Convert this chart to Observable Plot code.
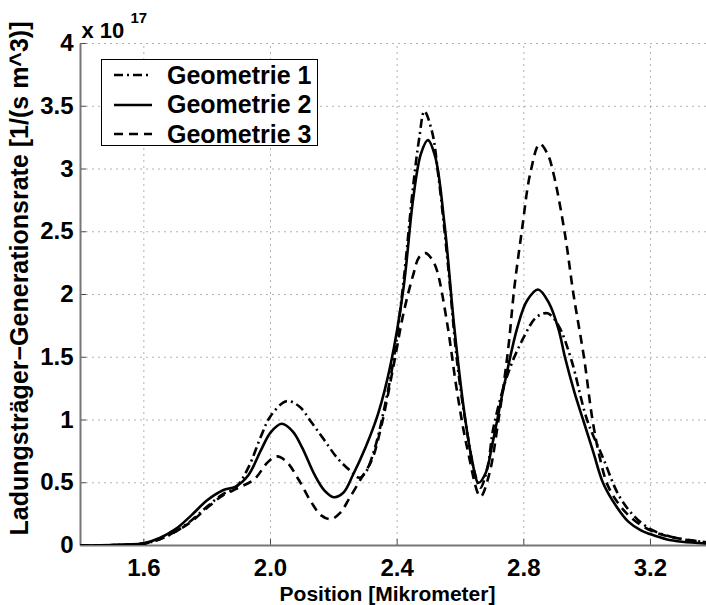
<!DOCTYPE html>
<html>
<head>
<meta charset="utf-8">
<script src="https://cdn.jsdelivr.net/npm/d3@7"></script>
<script src="https://cdn.jsdelivr.net/npm/@observablehq/plot@0.6"></script>
<style>
  html, body { margin: 0; padding: 0; background: #fff; }
  #wrap { position: relative; width: 706px; height: 605px; overflow: hidden; }
  #legend {
    position: absolute; left: 101px; top: 59px; width: 215px; height: 85px;
    border: 1.5px solid #000; background: #fff; box-sizing: content-box;
    font-family: "Liberation Sans", Arial, sans-serif; font-weight: bold; font-size: 25px;
  }
  .row { position: absolute; left: 0; height: 30px; display: flex; align-items: center; }
  .row svg { margin-left: 12px; margin-right: 15px; }
</style>
</head>
<body>
<div id="wrap"><div id="chart"></div><div id="legend"></div></div>
<script>
// ---- data (x in micrometer, y in units of 1e17 1/(s m^3)) ----
const seriesNames = ["Geometrie 1", "Geometrie 2", "Geometrie 3"];

const geom1X = [1.40,1.50,1.55,1.60,1.65,1.70,1.75,1.80,1.85,1.89,1.93,1.97,2.00,2.05,2.09,2.13,2.17,2.21,2.25,2.28,2.30,2.33,2.36,2.39,2.42,2.45,2.47,2.486,2.51,2.53,2.56,2.59,2.62,2.645,2.663,2.685,2.705,2.75,2.80,2.84,2.875,2.91,2.95,3.00,3.05,3.10,3.15,3.20,3.25,3.30,3.38];
const geom1Y = [0.0,0.003,0.008,0.015,0.05,0.11,0.20,0.31,0.41,0.46,0.62,0.87,1.03,1.15,1.11,0.98,0.84,0.70,0.60,0.54,0.58,0.78,1.10,1.50,2.10,2.85,3.25,3.46,3.30,2.95,2.25,1.45,0.92,0.58,0.46,0.62,0.95,1.37,1.66,1.82,1.85,1.75,1.48,1.00,0.70,0.40,0.23,0.13,0.08,0.05,0.025];

const geom2X = [1.40,1.50,1.55,1.60,1.65,1.70,1.75,1.80,1.85,1.89,1.93,1.97,2.00,2.035,2.07,2.10,2.14,2.17,2.20,2.23,2.26,2.30,2.34,2.38,2.42,2.45,2.475,2.497,2.52,2.55,2.58,2.61,2.635,2.657,2.68,2.70,2.74,2.78,2.81,2.845,2.88,2.91,2.93,2.96,2.99,3.02,3.05,3.09,3.13,3.17,3.20,3.25,3.30,3.38];
const geom2Y = [0.0,0.003,0.008,0.018,0.06,0.13,0.24,0.36,0.44,0.47,0.56,0.76,0.90,0.97,0.91,0.78,0.56,0.44,0.385,0.42,0.56,0.78,1.05,1.45,2.05,2.75,3.12,3.23,3.10,2.55,1.75,1.10,0.70,0.50,0.58,0.80,1.30,1.74,1.95,2.04,1.93,1.72,1.50,1.22,0.98,0.74,0.50,0.32,0.19,0.12,0.09,0.05,0.03,0.015];

const geom3X = [1.40,1.50,1.55,1.60,1.65,1.70,1.75,1.80,1.85,1.90,1.95,1.99,2.02,2.05,2.09,2.13,2.16,2.19,2.22,2.25,2.29,2.32,2.35,2.39,2.42,2.45,2.47,2.49,2.51,2.526,2.558,2.589,2.621,2.663,2.69,2.72,2.75,2.77,2.795,2.82,2.85,2.875,2.895,2.93,2.957,2.99,3.017,3.04,3.065,3.10,3.14,3.20,3.27,3.38];
const geom3Y = [0.0,0.003,0.008,0.015,0.05,0.11,0.19,0.30,0.40,0.46,0.53,0.66,0.71,0.67,0.52,0.34,0.24,0.21,0.26,0.38,0.55,0.68,0.95,1.45,1.85,2.15,2.30,2.33,2.28,2.19,1.77,1.23,0.78,0.39,0.56,1.00,1.55,2.05,2.53,2.96,3.20,3.12,2.95,2.48,2.00,1.50,1.00,0.70,0.48,0.33,0.22,0.12,0.065,0.025];

const xTicks = [1.6, 2.0, 2.4, 2.8, 3.2];
const yTicks = [0, 0.5, 1, 1.5, 2, 2.5, 3, 3.5, 4];
const xDomain = [1.4, 3.377];
const yDomain = [0, 4];
const yExponent = "17";
const xLabel = "Position [Mikrometer]";
const yLabel = "Ladungsträger\u2212Generationsrate [1/(s m^3)]";

const dashes = ["9,4,2,4", "none", "9,6"];

const rows = [];
[[geom1X, geom1Y], [geom2X, geom2Y], [geom3X, geom3Y]].forEach(([xs, ys], i) => {
  xs.forEach((x, j) => rows.push({series: seriesNames[i], x, y: ys[j]}));
});

// grid and axis lines built from the tick arrays and domains
const gridRows = [];
xTicks.forEach(t => yDomain.forEach(y => gridRows.push({g: "x" + t, x: t, y})));
yTicks.filter(t => t > yDomain[0]).forEach(t => xDomain.forEach(x => gridRows.push({g: "y" + t, x, y: t})));
const axisRows = [];
yDomain.forEach(y => axisRows.push({g: "left", x: xDomain[0], y}));
xDomain.forEach(x => axisRows.push({g: "bottom", x, y: yDomain[0]}));

const fontStack = "'Liberation Sans', Arial, sans-serif";

const chart = Plot.plot({
  width: 706,
  height: 605,
  marginLeft: 80,
  marginRight: 0,
  marginTop: 43,
  marginBottom: 60,
  x: {domain: xDomain},
  y: {domain: yDomain},
  style: {fontFamily: fontStack, fontWeight: "bold", fontSize: "24px", background: "#fff", color: "#000", overflow: "visible"},
  marks: [
    Plot.axisX(xTicks, {tickFormat: d => d.toFixed(1), tickSize: -6, tickPadding: 19, stroke: "#444",
      label: null, fontSize: 24}),
    Plot.axisY(yTicks, {tickFormat: d => String(d), tickSize: -6, tickPadding: 13, stroke: "#444",
      label: null, fontSize: 24}),
    Plot.line(gridRows, {x: "x", y: "y", z: "g", stroke: "#666", strokeWidth: 1,
      strokeDasharray: "1,5", strokeLinecap: "butt"}),
    Plot.line(axisRows, {x: "x", y: "y", z: "g", stroke: "#777", strokeWidth: 2, strokeLinecap: "butt"}),
    ...seriesNames.map((name, i) => Plot.line(rows.filter(r => r.series === name), {
      x: "x", y: "y", curve: "catmull-rom", stroke: "#000", strokeWidth: 2.6,
      strokeDasharray: dashes[i], strokeLinecap: "butt", clip: true
    })),
    Plot.text([xLabel], {frameAnchor: "bottom", lineAnchor: "bottom", dy: 55, dx: -6, fontSize: 21}),
    Plot.text([yLabel], {frameAnchor: "left", rotate: -90, textAnchor: "middle", lineAnchor: "top", dx: -70, dy: -16, fontSize: 25}),
    Plot.text(["x 10"], {frameAnchor: "top-left", textAnchor: "start", lineAnchor: "bottom", dy: -6, dx: 1,
      fontSize: 22}),
    Plot.text([yExponent], {frameAnchor: "top-left", textAnchor: "start", lineAnchor: "bottom", dy: -21, dx: 50,
      fontSize: 15})
  ]
});
document.getElementById("chart").appendChild(chart);

// legend
const legend = document.getElementById("legend");
seriesNames.forEach((name, i) => {
  const row = document.createElement("div");
  row.className = "row";
  row.style.top = (0 + i * 29.5) + "px";
  const ns = "http://www.w3.org/2000/svg";
  const s = document.createElementNS(ns, "svg");
  s.setAttribute("width", "38"); s.setAttribute("height", "10");
  const l = document.createElementNS(ns, "line");
  l.setAttribute("x1", "0"); l.setAttribute("x2", "38"); l.setAttribute("y1", "5"); l.setAttribute("y2", "5");
  l.setAttribute("stroke", "#000"); l.setAttribute("stroke-width", "2.6");
  if (dashes[i] !== "none") l.setAttribute("stroke-dasharray", dashes[i]);
  s.appendChild(l);
  const t = document.createElement("span");
  t.textContent = name;
  row.appendChild(s); row.appendChild(t);
  legend.appendChild(row);
});
</script>
</body>
</html>
